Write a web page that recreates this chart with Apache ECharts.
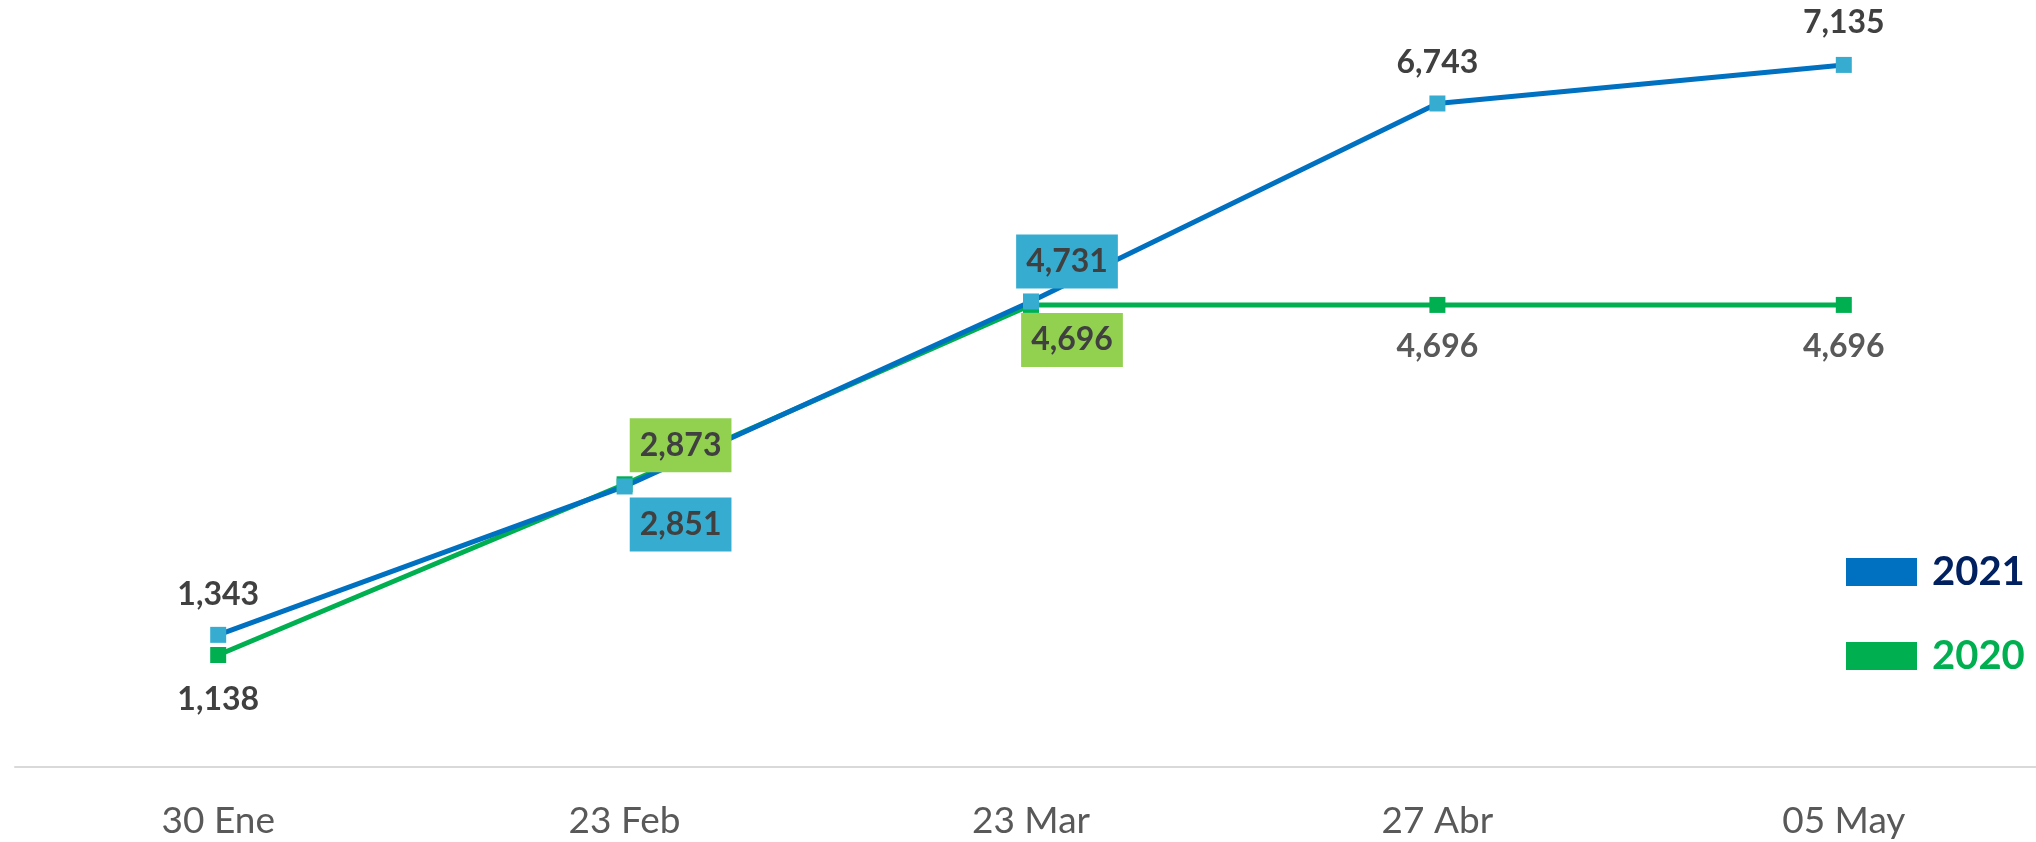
<!DOCTYPE html>
<html>
<head>
<meta charset="utf-8">
<script src="https://cdn.jsdelivr.net/npm/echarts@6/dist/echarts.min.js"></script>
<style>
  html, body { margin: 0; padding: 0; background: #fff; }
  #chart { width: 2036px; height: 842px; }
</style>
</head>
<body>
<div id="chart"></div>
<script>
// datos
var fechas = ['30 Ene', '23 Feb', '23 Mar', '27 Abr', '05 May'];
var valores2021 = [1343, 2851, 4731, 6743, 7135];
var valores2020 = [1138, 2873, 4696, 4696, 4696];

var fuente = 'Lato, "Open Sans", sans-serif';

// estilo de etiqueta por punto: [dx, dy, fondo, color]
var etiquetas2021 = [
    [0, -40, null, '#404040'],
    [56, 38, '#36ADD0', '#404040'],
    [36, -40, '#36ADD0', '#404040'],
    [0, -41, null, '#404040'],
    [0, -42, null, '#404040']
];
var etiquetas2020 = [
    [0, 45, null, '#404040'],
    [56, -39, '#92D050', '#404040'],
    [41, 35, '#92D050', '#404040'],
    [0, 42, null, '#595959'],
    [0, 42, null, '#595959']
];

function miles(p) {
    return p.value.toString().replace(/\B(?=(\d{3})+(?!\d))/g, ',');
}

function armarDatos(valores, etiquetas) {
    return valores.map(function (v, i) {
        var e = etiquetas[i];
        return {
            value: v,
            label: {
                show: true,
                position: 'inside',
                offset: [e[0], e[1]],
                color: e[3],
                backgroundColor: e[2] || 'transparent',
                padding: e[2] ? [11, 10] : 0,
                textBorderWidth: 0,
                formatter: miles
            }
        };
    });
}

var myChart = echarts.init(document.getElementById('chart'));
myChart.setOption({
    animation: false,
    grid: {
        left: 15,
        width: 2032,
        top: 29,
        bottom: 75,
        outerBoundsMode: 'none',
        containLabel: false
    },
    legend: {
        orient: 'vertical',
        left: 1841,
        top: 547,
        icon: 'rect',
        itemWidth: 71,
        itemHeight: 28,
        itemGap: 44,
        textStyle: {
            fontFamily: fuente,
            fontSize: 40,
            lineHeight: 40,
            fontWeight: 'bold',
            padding: [0, 0, 0, 10]
        },
        data: [
            {name: '2021', itemStyle: {color: '#0070C0'}, textStyle: {color: '#002060'}},
            {name: '2020', itemStyle: {color: '#00B050'}, textStyle: {color: '#00B050'}}
        ]
    },
    xAxis: {
        type: 'category',
        data: fechas,
        boundaryGap: true,
        axisLine: {lineStyle: {color: '#d9d9d9', width: 2}},
        axisTick: {show: false},
        axisLabel: {
            color: '#595959',
            fontFamily: fuente,
            fontSize: 37,
            margin: 36
        }
    },
    yAxis: {
        type: 'value',
        min: 0,
        max: 7500,
        show: false,
        splitLine: {show: false}
    },
    series: [{
        name: '2020',
        type: 'line',
        data: armarDatos(valores2020, etiquetas2020),
        symbol: 'rect',
        symbolSize: 16,
        lineStyle: {color: '#00B050', width: 5},
        itemStyle: {color: '#00B050'},
        label: {fontFamily: fuente, fontSize: 32, fontWeight: 'bold', lineHeight: 32}
    }, {
        name: '2021',
        type: 'line',
        data: armarDatos(valores2021, etiquetas2021),
        symbol: 'rect',
        symbolSize: 16,
        lineStyle: {color: '#0070C0', width: 5},
        itemStyle: {color: '#36ADD0'},
        label: {fontFamily: fuente, fontSize: 32, fontWeight: 'bold', lineHeight: 32}
    }]
});
</script>
</body>
</html>
